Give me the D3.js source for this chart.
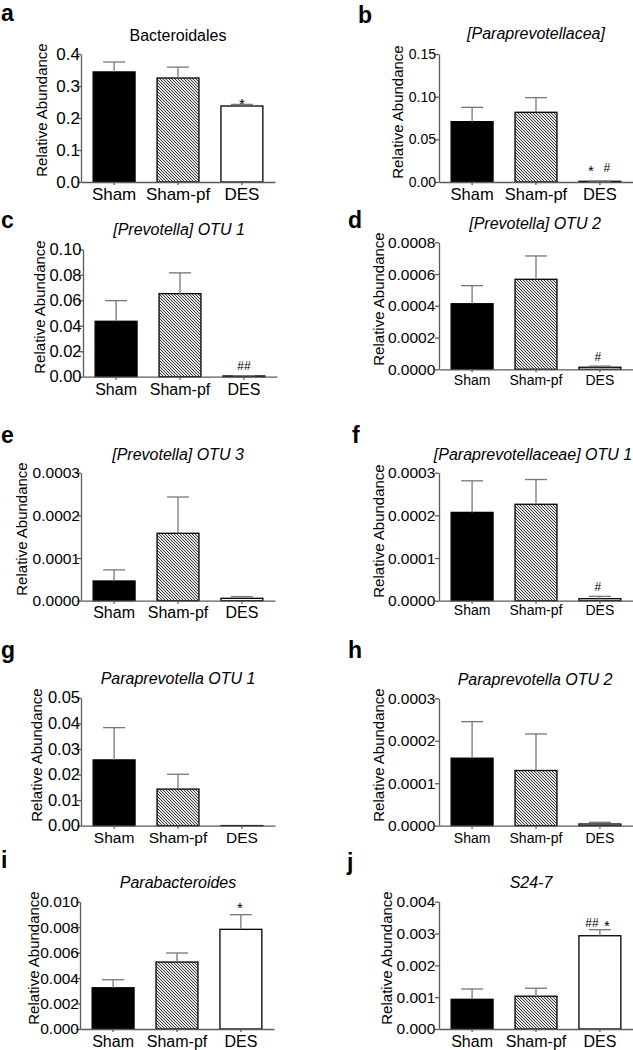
<!DOCTYPE html>
<html>
<head>
<meta charset="utf-8">
<script src="https://cdn.jsdelivr.net/npm/d3@7"></script>
<style>
  html, body { margin: 0; padding: 0; background: #fff; }
  svg { display: block; font-family: "Liberation Sans", Arial, sans-serif; }
</style>
</head>
<body>
<svg id="chart" width="633" height="1050"></svg>
<script>
// ---------------- DATA ----------------
const categories = ["Sham", "Sham-pf", "DES"];
const panelLetters = ["a", "b", "c", "d", "e", "f", "g", "h", "i", "j"];
const panelTitles = [
  "Bacteroidales",
  "[Paraprevotellacea]",
  "[Prevotella] OTU 1",
  "[Prevotella] OTU 2",
  "[Prevotella] OTU 3",
  "[Paraprevotellaceae]  OTU 1",
  "Paraprevotella OTU 1",
  "Paraprevotella OTU 2",
  "Parabacteroides",
  "S24-7"
];
const yAxisTitle = "Relative Abundance";

// means (Sham, Sham-pf, DES) and SEM (upper error) for each panel
const meanA = [0.344, 0.325, 0.2375];   const semA = [0.031, 0.034, 0.005];
const meanB = [0.0707, 0.0817, 0.0008]; const semB = [0.0168, 0.0171, 0.0002];
const meanC = [0.0435, 0.0652, 0.0006]; const semC = [0.0162, 0.0163, 0.0002];
const meanD = [0.000413, 0.000567, 0.000013]; const semD = [0.000114, 0.000147, 0.000007];
const meanE = [0.0000462, 0.000158, 0.0000056]; const semE = [0.000026, 0.000085, 0.000004];
const meanF = [0.000207, 0.000226, 0.0000047]; const semF = [0.000074, 0.000058, 0.0000055];
const meanG = [0.0257, 0.0143, 0.00005]; const semG = [0.0126, 0.0058, 0];
const meanH = [0.000159, 0.00013, 0.000004]; const semH = [0.000086, 0.000086, 0.000004];
const meanI = [0.00324, 0.00526, 0.00783]; const semI = [0.00063, 0.00071, 0.00115];
const meanJ = [0.000933, 0.00103, 0.00293]; const semJ = [0.000324, 0.00025, 0.00019];

// y tick values and labels
const ticksA = [0, 0.1, 0.2, 0.3, 0.4];           const tickLabelsA = ["0.0", "0.1", "0.2", "0.3", "0.4"];
const ticksB = [0, 0.05, 0.10, 0.15];             const tickLabelsB = ["0.00", "0.05", "0.10", "0.15"];
const ticksC = [0, 0.02, 0.04, 0.06, 0.08, 0.10]; const tickLabelsC = ["0.00", "0.02", "0.04", "0.06", "0.08", "0.10"];
const ticksD = [0, 0.0002, 0.0004, 0.0006, 0.0008]; const tickLabelsD = ["0.0000", "0.0002", "0.0004", "0.0006", "0.0008"];
const ticksE = [0, 0.0001, 0.0002, 0.0003];       const tickLabelsE = ["0.0000", "0.0001", "0.0002", "0.0003"];
const ticksF = [0, 0.0001, 0.0002, 0.0003];       const tickLabelsF = ["0.0000", "0.0001", "0.0002", "0.0003"];
const ticksG = [0, 0.01, 0.02, 0.03, 0.04, 0.05]; const tickLabelsG = ["0.00", "0.01", "0.02", "0.03", "0.04", "0.05"];
const ticksH = [0, 0.0001, 0.0002, 0.0003];       const tickLabelsH = ["0.0000", "0.0001", "0.0002", "0.0003"];
const ticksI = [0, 0.002, 0.004, 0.006, 0.008, 0.010]; const tickLabelsI = ["0.000", "0.002", "0.004", "0.006", "0.008", "0.010"];
const ticksJ = [0, 0.001, 0.002, 0.003, 0.004];   const tickLabelsJ = ["0.000", "0.001", "0.002", "0.003", "0.004"];

// significance marks over the DES bar
const marksA = ["*"];
const marksB = ["*", "#"];
const marksC = ["##"];
const marksD = ["#"];
const marksE = [];
const marksF = ["#"];
const marksG = [];
const marksH = [];
const marksI = ["*"];
const marksJ = ["##", "*"];

const means = [meanA, meanB, meanC, meanD, meanE, meanF, meanG, meanH, meanI, meanJ];
const sems = [semA, semB, semC, semD, semE, semF, semG, semH, semI, semJ];
const tickVals = [ticksA, ticksB, ticksC, ticksD, ticksE, ticksF, ticksG, ticksH, ticksI, ticksJ];
const tickLabs = [tickLabelsA, tickLabelsB, tickLabelsC, tickLabelsD, tickLabelsE, tickLabelsF, tickLabelsG, tickLabelsH, tickLabelsI, tickLabelsJ];
const marks = [marksA, marksB, marksC, marksD, marksE, marksF, marksG, marksH, marksI, marksJ];

// ---------------- LAYOUT ----------------
const layout = [
  {x0: 81,  yTop: 54,    yBot: 182,   title: [178, 40.5], letter: [1, 21],   ylab: [47, 110],  xlabY: 200,  tickFont: 17,   tickGap: 1,   xFont: 17,   markDx: [0],      markGap: 4},
  {x0: 439, yTop: 54,    yBot: 182,   title: [536, 39],   letter: [358, 22.5], ylab: [403, 112], xlabY: 200, tickFont: 14,   tickGap: 3,   xFont: 16.5, markDx: [-9, 7],  markGap: 13.5},
  {x0: 83,  yTop: 249.3, yBot: 376.7, title: [179, 235],  letter: [1, 228],  ylab: [45, 307],  xlabY: 395,  tickFont: 16.5, tickGap: 1.5, xFont: 16,   markDx: [0],      markGap: 10},
  {x0: 439, yTop: 242.3, yBot: 369.3, title: [535, 229],  letter: [348, 228], ylab: [384, 299], xlabY: 385, tickFont: 15.5, tickGap: 3.7, xFont: 14,   markDx: [-2],     markGap: 9},
  {x0: 81,  yTop: 472.7, yBot: 600.7, title: [178, 460],  letter: [1, 443],  ylab: [27, 529],  xlabY: 618,  tickFont: 15.5, tickGap: 1,   xFont: 16,   markDx: [],       markGap: 0},
  {x0: 439, yTop: 472.7, yBot: 600.7, title: [533, 460],  letter: [352, 443], ylab: [384, 531], xlabY: 615, tickFont: 15.5, tickGap: 3.7, xFont: 14,   markDx: [-2],     markGap: 10},
  {x0: 81,  yTop: 697.7, yBot: 825.7, title: [178, 684],  letter: [1, 658],  ylab: [42, 755],  xlabY: 843,  tickFont: 16.5, tickGap: 1,   xFont: 15.5, markDx: [],       markGap: 0},
  {x0: 439, yTop: 698.3, yBot: 825.7, title: [535, 685],  letter: [348, 658], ylab: [384, 755], xlabY: 843, tickFont: 15.5, tickGap: 3.7, xFont: 14,   markDx: [],       markGap: 0},
  {x0: 80,  yTop: 901.7, yBot: 1029,  title: [178, 888],  letter: [1, 868],  ylab: [39, 958],  xlabY: 1047, tickFont: 15.5, tickGap: 1,   xFont: 16,   markDx: [-1],     markGap: 10.4},
  {x0: 439, yTop: 901.7, yBot: 1029,  title: [531, 888],  letter: [347, 870], ylab: [392, 958], xlabY: 1047, tickFont: 15.5, tickGap: 3.7, xFont: 16,   markDx: [-8, 7],  markGap: 7.4}
];

const fills = ["#000", "url(#hatch)", "#fff"];
const axisColor = "#5a5a5a";
const errColor = "#777";
const tickLen = 4;

const svg = d3.select("#chart");

// hatch pattern
const defs = svg.append("defs");
const pat = defs.append("pattern")
  .attr("id", "hatch").attr("patternUnits", "userSpaceOnUse")
  .attr("width", 3).attr("height", 3);
pat.append("rect").attr("width", 3).attr("height", 3).attr("fill", "#e4e4e4");
pat.append("path")
  .attr("d", "M-1,-1 L4,4 M-1,2 L1,4 M2,-1 L4,1")
  .attr("stroke", "#2a2a2a").attr("stroke-width", 0.9);

panelLetters.forEach((letter, p) => {
  const L = layout[p];
  const g = svg.append("g");
  const ticks = tickVals[p];
  const y = d3.scaleLinear().domain([0, ticks[ticks.length - 1]]).range([L.yBot, L.yTop]);
  const x = d3.scaleBand().domain(categories).range([L.x0, L.x0 + 194])
    .paddingInner(0.344).paddingOuter(0.19);

  // bars
  const rows = categories.map((c, i) => ({c, m: means[p][i], s: sems[p][i], i}));
  g.selectAll("rect.bar").data(rows).join("rect")
    .attr("class", "bar")
    .attr("x", d => x(d.c))
    .attr("width", x.bandwidth())
    .attr("y", d => y(d.m))
    .attr("height", d => Math.max(0, y(0) - y(d.m)))
    .attr("fill", d => fills[d.i])
    .attr("stroke", "#000").attr("stroke-width", 1.3);

  // error bars (upper only)
  const errRows = rows.filter(d => d.s > 0);
  g.selectAll("line.err").data(errRows).join("line")
    .attr("class", "err")
    .attr("x1", d => x(d.c) + x.bandwidth() / 2).attr("x2", d => x(d.c) + x.bandwidth() / 2)
    .attr("y1", d => y(d.m)).attr("y2", d => y(d.m + d.s))
    .attr("stroke", errColor).attr("stroke-width", 1.3);
  g.selectAll("line.cap").data(errRows).join("line")
    .attr("class", "cap")
    .attr("x1", d => x(d.c) + x.bandwidth() / 2 - 11).attr("x2", d => x(d.c) + x.bandwidth() / 2 + 11)
    .attr("y1", d => y(d.m + d.s)).attr("y2", d => y(d.m + d.s))
    .attr("stroke", errColor).attr("stroke-width", 1.3);

  // y axis
  const yAxis = d3.axisLeft(y).tickValues(ticks).tickFormat((d, i) => tickLabs[p][i])
    .tickSize(tickLen).tickSizeOuter(0).tickPadding(L.tickGap - tickLen);
  const ya = g.append("g").attr("transform", `translate(${L.x0},0)`).call(yAxis);
  ya.select(".domain").attr("stroke", axisColor).attr("stroke-width", 1.3);
  ya.selectAll(".tick line").attr("stroke", axisColor).attr("stroke-width", 1.3);
  ya.selectAll(".tick text").attr("fill", "#000").attr("font-size", L.tickFont)
    .attr("font-family", "Liberation Sans, Arial, sans-serif");

  // x axis
  const xAxis = d3.axisBottom(x).tickSize(3).tickSizeOuter(0).tickFormat("");
  const xa = g.append("g").attr("transform", `translate(0,${L.yBot})`).call(xAxis);
  xa.select(".domain").attr("stroke", axisColor).attr("stroke-width", 1.3);
  xa.selectAll(".tick line").attr("stroke", axisColor).attr("stroke-width", 1.3);

  // x labels
  g.selectAll("text.xl").data(categories).join("text")
    .attr("class", "xl")
    .attr("x", d => x(d) + x.bandwidth() / 2)
    .attr("y", L.xlabY)
    .attr("text-anchor", "middle")
    .attr("font-size", L.xFont)
    .attr("fill", "#000")
    .text(d => d);

  // y axis title
  g.append("text")
    .attr("transform", `translate(${L.ylab[0]},${L.ylab[1]}) rotate(-90)`)
    .attr("text-anchor", "middle")
    .attr("font-size", 15)
    .attr("fill", "#000")
    .text(yAxisTitle);

  // panel title
  g.append("text")
    .attr("x", L.title[0]).attr("y", L.title[1])
    .attr("text-anchor", "middle")
    .attr("font-size", 16)
    .attr("font-style", p === 0 ? "normal" : "italic")
    .attr("fill", "#000")
    .text(panelTitles[p]);

  // panel letter
  g.append("text")
    .attr("x", L.letter[0]).attr("y", L.letter[1])
    .attr("font-size", 23).attr("font-weight", "bold")
    .attr("fill", "#000")
    .text(letter);

  // significance marks above DES
  const desC = x("DES") + x.bandwidth() / 2;
  const topY = y(means[p][2] + sems[p][2]);
  marks[p].forEach((t, k) => {
    const isHash = t.indexOf("#") >= 0;
    const fs = isHash ? 12 : 15;
    const yc = topY - L.markGap;
    g.append("text")
      .attr("x", desC + (L.markDx[k] || 0))
      .attr("y", yc + (isHash ? 0.35 : 0.57) * fs)
      .attr("text-anchor", "middle")
      .attr("font-size", fs)
      .attr("fill", "#000")
      .text(t);
  });
});
</script>
</body>
</html>
